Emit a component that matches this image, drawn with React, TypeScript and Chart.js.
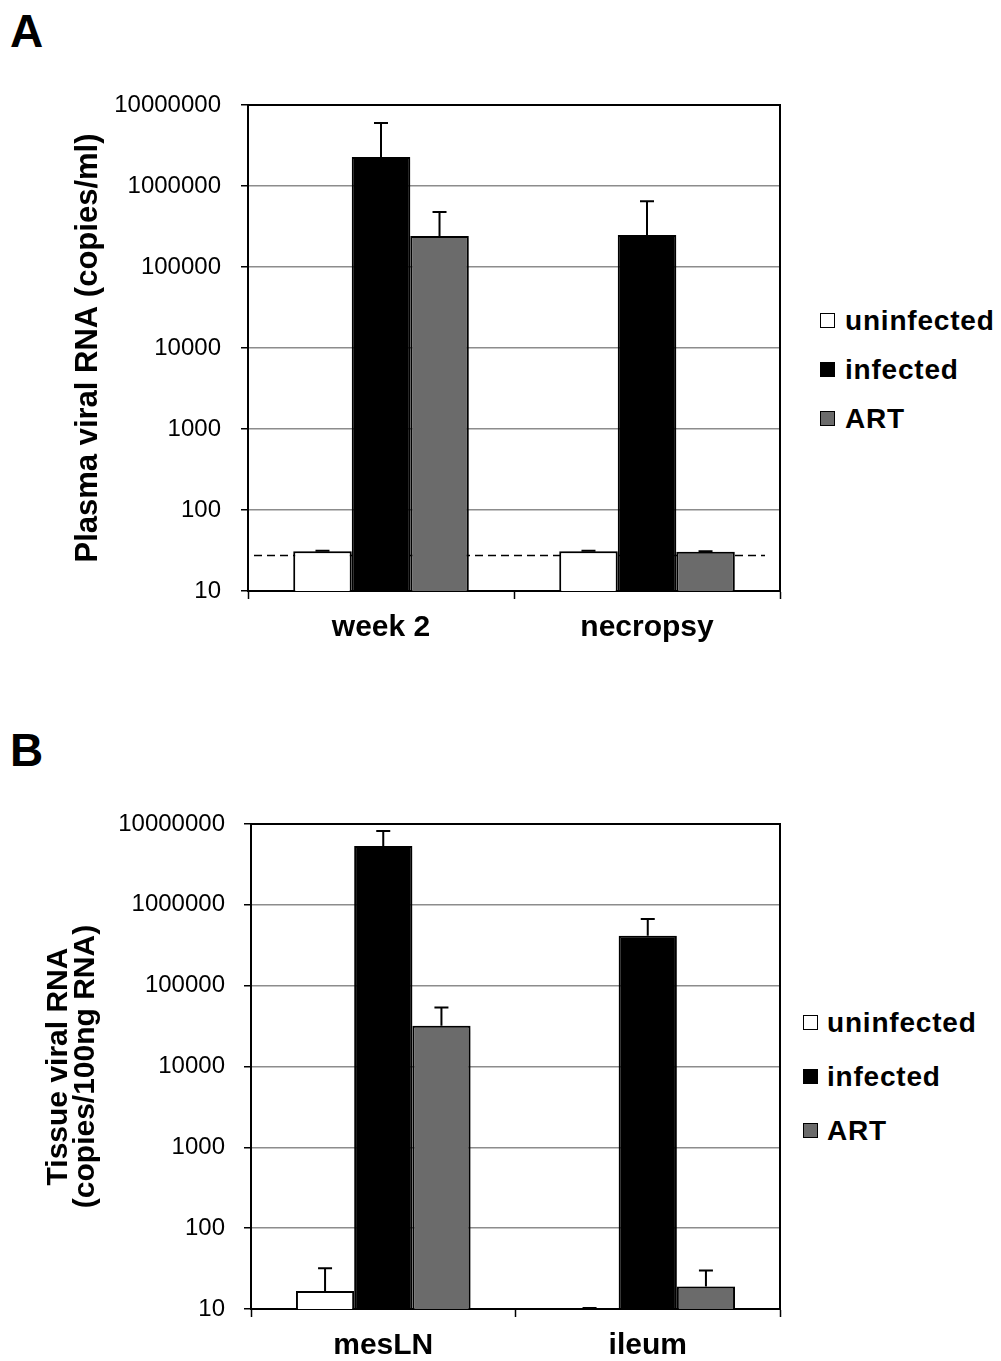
import React, { useEffect, useRef } from "react";
import { Chart, registerables } from "chart.js";

Chart.register(...registerables);

// ---------- data ----------
const seriesNames = ["uninfected", "infected", "ART"];
const seriesColors = ["#ffffff", "#000000", "#6b6b6b"];

const yTickValues = [10, 100, 1000, 10000, 100000, 1000000, 10000000];

// Panel A: plasma viral RNA (copies/ml)
const plasmaCategories = ["week 2", "necropsy"];
const plasmaUninfected = [31, 31];
const plasmaInfected = [2280000, 248000];
const plasmaART = [241000, 30.5];
const plasmaUninfectedErr = [31.5, 31.5];
const plasmaInfectedErr = [6000000, 650000];
const plasmaARTErr = [478000, 31];
const plasmaDetectionLimit = 27.5;
const plasmaTitle = "Plasma viral RNA (copies/ml)";

// Panel B: tissue viral RNA (copies/100ng RNA)
const tissueCategories = ["mesLN", "ileum"];
const tissueUninfected = [16.7, 10];
const tissueInfected = [5350000, 414000];
const tissueART = [32000, 19];
const tissueUninfectedErr = [32, 10.3];
const tissueInfectedErr = [8200000, 670000];
const tissueARTErr = [53500, 30];
const tissueTitle = ["Tissue viral RNA", "(copies/100ng RNA)"];

const FONT = "'Liberation Sans', Arial, Helvetica, sans-serif";

// ---------- plugin: dashed limit line, bar shadow, error bars, frame ----------
const framePlugin = {
  id: "frame",
  beforeDatasetsDraw(chart: any, _args: any, opts: any) {
    const { ctx, chartArea: a, scales } = chart;
    const y = scales.y;
    if (opts && opts.value != null) {
      const py = y.getPixelForValue(opts.value);
      ctx.save();
      ctx.setLineDash([8, 5]);
      ctx.strokeStyle = "#000";
      ctx.lineWidth = 1.5;
      ctx.beginPath();
      ctx.moveTo(a.left + 6, py);
      ctx.lineTo(a.right - 15, py);
      ctx.stroke();
      ctx.restore();
    }
    ctx.save();
    ctx.shadowColor = "rgba(0,0,0,0.28)";
    ctx.shadowBlur = 5;
    ctx.shadowOffsetX = 3;
    ctx.shadowOffsetY = 0;
  },
  afterDatasetsDraw(chart: any) {
    const { ctx, chartArea: a, scales } = chart;
    ctx.restore();
    const y = scales.y;
    ctx.save();
    ctx.strokeStyle = "#000";
    ctx.lineWidth = 2;
    chart.data.datasets.forEach((ds: any, di: number) => {
      const meta = chart.getDatasetMeta(di);
      const errs = ds.errorValues || [];
      meta.data.forEach((el: any, i: number) => {
        const e = errs[i];
        if (e == null) return;
        const x = el.x;
        const yTop = el.y;
        const yE = y.getPixelForValue(e);
        ctx.beginPath();
        ctx.moveTo(x, yTop);
        ctx.lineTo(x, yE);
        ctx.moveTo(x - 7, yE);
        ctx.lineTo(x + 7, yE);
        ctx.stroke();
      });
    });
    // top and right frame
    ctx.lineWidth = 2;
    ctx.beginPath();
    ctx.moveTo(a.left, a.top);
    ctx.lineTo(a.right, a.top);
    ctx.lineTo(a.right, a.bottom);
    ctx.stroke();
    ctx.restore();
  },
};

type PanelCfg = {
  categories: string[];
  values: number[][];
  errors: number[][];
  title: string | string[];
  titleSize: number;
  titleLH: number;
  padLeft: number;
  yWidth: number;
  padTop: number;
  padRight: number;
  xHeight: number;
  tickPad: number;
  dashed: number | null;
};

function makeConfig(p: PanelCfg): any {
  return {
    type: "bar",
    data: {
      labels: p.categories,
      datasets: seriesNames.map((name, i) => ({
        label: name,
        data: p.values[i],
        backgroundColor: seriesColors[i],
        borderColor: "#000",
        borderWidth: 2,
        categoryPercentage: 0.66,
        barPercentage: 1,
        errorValues: p.errors[i],
      })),
    },
    options: {
      responsive: false,
      maintainAspectRatio: false,
      animation: false,
      layout: { padding: { left: p.padLeft, right: p.padRight, top: p.padTop, bottom: 0 } },
      plugins: {
        legend: { display: false },
        tooltip: { enabled: false },
        frame: { value: p.dashed },
      },
      scales: {
        x: {
          type: "category",
          offset: true,
          grid: {
            offset: true,
            drawOnChartArea: false,
            drawTicks: true,
            tickLength: 8,
            tickColor: "#000",
            tickWidth: 1.5,
          },
          border: { color: "#000", width: 2 },
          ticks: {
            color: "#000",
            font: { family: FONT, size: 30, weight: "bold" },
            padding: 11,
            maxRotation: 0,
            autoSkip: false,
          },
          afterFit: (s: any) => {
            s.height = p.xHeight;
          },
        },
        y: {
          type: "logarithmic",
          min: 10,
          max: 10000000,
          afterBuildTicks: (s: any) => {
            s.ticks = yTickValues.map((v) => ({ value: v }));
          },
          ticks: {
            color: "#000",
            font: { family: FONT, size: 24 },
            padding: p.tickPad,
            callback: (v: any) => String(v),
          },
          grid: {
            color: (c: any) => (c.tick && c.tick.value >= 10000000 ? "#000" : "#8c8c8c"),
            lineWidth: 1.5,
            tickColor: "#000",
            tickLength: 7,
            tickWidth: 1.5,
          },
          border: { color: "#000", width: 2 },
          title: {
            display: true,
            text: p.title,
            color: "#000",
            font: { family: FONT, size: p.titleSize, weight: "bold", lineHeight: p.titleLH },
            padding: { top: 4, bottom: 4 },
          },
          afterFit: (s: any) => {
            s.width = p.yWidth;
          },
        },
      },
    },
    plugins: [framePlugin],
  };
}

function Panel({ top, height, cfg }: { top: number; height: number; cfg: PanelCfg }) {
  const ref = useRef<HTMLCanvasElement>(null);
  useEffect(() => {
    const chart = new Chart(ref.current as HTMLCanvasElement, makeConfig(cfg));
    return () => chart.destroy();
  }, []);
  return (
    <canvas
      ref={ref}
      width={800}
      height={height}
      style={{ position: "absolute", left: 0, top, width: 800, height }}
    />
  );
}

function Legend({ left, textLeft, centers }: { left: number; textLeft: number; centers: number[] }) {
  return (
    <>
      {seriesNames.map((name, i) => (
        <React.Fragment key={name}>
          <div
            style={{
              position: "absolute",
              left,
              top: centers[i] - 8,
              width: 13,
              height: 13,
              background: seriesColors[i],
              border: "1.5px solid #000",
            }}
          />
          <div
            style={{
              position: "absolute",
              left: textLeft,
              top: centers[i] - 16,
              height: 32,
              lineHeight: "32px",
              fontFamily: FONT,
              fontWeight: "bold",
              fontSize: 28,
              letterSpacing: "0.8px",
              color: "#000",
              whiteSpace: "nowrap",
            }}
          >
            {name}
          </div>
        </React.Fragment>
      ))}
    </>
  );
}

const panelA: PanelCfg = {
  categories: plasmaCategories,
  values: [plasmaUninfected, plasmaInfected, plasmaART],
  errors: [plasmaUninfectedErr, plasmaInfectedErr, plasmaARTErr],
  title: plasmaTitle,
  titleSize: 31,
  titleLH: 1.2,
  padLeft: 66,
  yWidth: 182,
  padTop: 35,
  padRight: 20,
  xHeight: 79,
  tickPad: 20,
  dashed: plasmaDetectionLimit,
};

const panelB: PanelCfg = {
  categories: tissueCategories,
  values: [tissueUninfected, tissueInfected, tissueART],
  errors: [tissueUninfectedErr, tissueInfectedErr, tissueARTErr],
  title: tissueTitle,
  titleSize: 30,
  titleLH: 0.9,
  padLeft: 41.5,
  yWidth: 209.5,
  padTop: 34,
  padRight: 20,
  xHeight: 51,
  tickPad: 19,
  dashed: null,
};

export default function App() {
  const labelStyle: React.CSSProperties = {
    position: "absolute",
    fontFamily: FONT,
    fontWeight: "bold",
    fontSize: 46,
    lineHeight: "46px",
    color: "#000",
  };
  return (
    <div
      style={{
        position: "absolute",
        left: 0,
        top: 0,
        width: 1001,
        height: 1361,
        overflow: "hidden",
        background: "#fff",
      }}
    >
      <div style={{ ...labelStyle, left: 10, top: 8 }}>A</div>
      <div style={{ ...labelStyle, left: 10, top: 727 }}>B</div>
      <Panel top={70} height={600} cfg={panelA} />
      <Panel top={790} height={570} cfg={panelB} />
      <Legend left={820} textLeft={845} centers={[321, 370, 419]} />
      <Legend left={803} textLeft={827} centers={[1023, 1077, 1131]} />
    </div>
  );
}
